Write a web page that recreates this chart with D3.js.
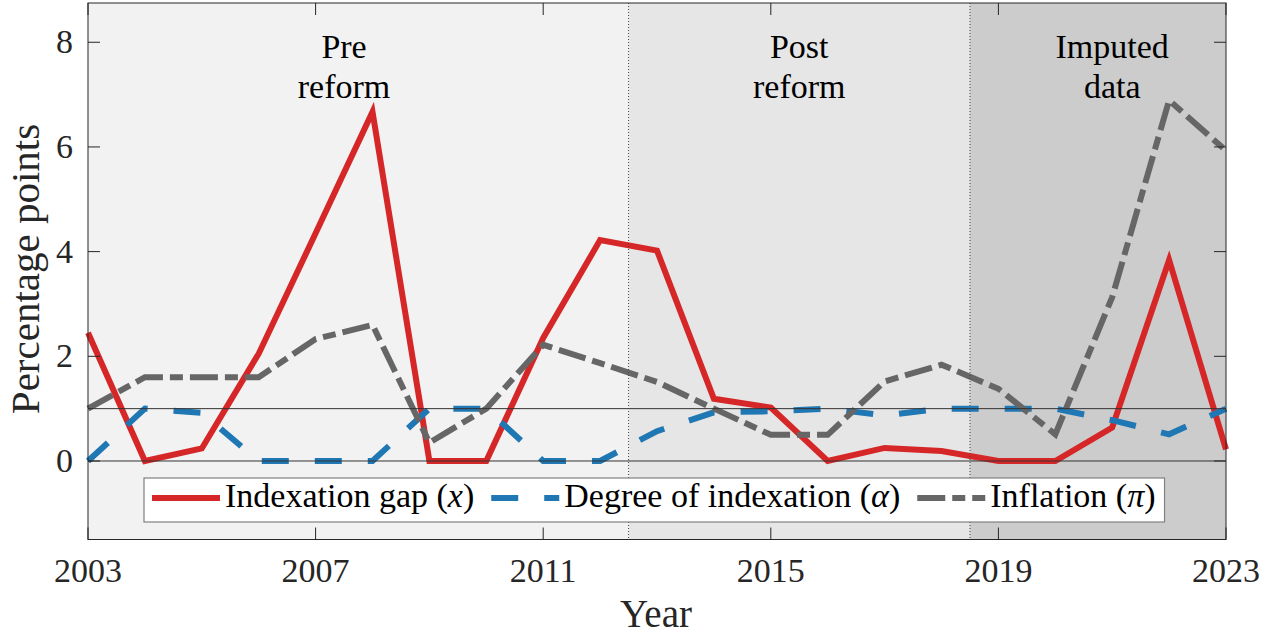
<!DOCTYPE html>
<html>
<head>
<meta charset="utf-8">
<script src="https://cdn.jsdelivr.net/npm/d3@7"></script>
<style>
  body { margin: 0; background: #fff; }
  text { font-family: "Liberation Serif", "Times New Roman", serif; }
</style>
</head>
<body>
<div id="chart"></div>
<script>
var years = [2003,2004,2005,2006,2007,2008,2009,2010,2011,2012,2013,2014,2015,2016,2017,2018,2019,2020,2021,2022,2023];
var gap   = [2.45,0,0.24,2.05,4.35,6.67,0,0,2.35,4.22,4.02,1.19,1.02,0,0.25,0.19,0,0,0.64,3.84,0.22];
var alpha = [0,1.0,0.92,0,0,0,1.0,1.0,0,0,0.57,0.93,0.95,1.0,0.87,1.0,1.0,1.0,0.78,0.51,1.0];
var infl  = [1.0,1.6,1.6,1.6,2.33,2.6,0.35,1.0,2.22,1.87,1.51,1.0,0.5,0.5,1.52,1.84,1.38,0.51,3.13,6.89,5.93];

var xTicks = [2003,2007,2011,2015,2019,2023];
var yTicks = [0,2,4,6,8];
var refLines = [0,1];

var periodStart = [2003,2012.5,2018.5];
var periodEnd   = [2012.5,2018.5,2023];
var periodMid   = [2007.5,2015.5,2021];
var periodLabel = [["Pre","reform"],["Post","reform"],["Imputed","data"]];
var periodFill  = ["#f2f2f2","#e6e6e6","#cccccc"];

var seriesNames = ["Indexation gap (", "Degree of indexation (", "Inflation ("];
var seriesSym   = ["x","\u03b1","\u03c0"];

var W = 1275, H = 635;
var svg = d3.select("#chart").append("svg").attr("width", W).attr("height", H);

var x = d3.scaleLinear().domain([2003,2023]).range([88,1226]);
var y = d3.scaleLinear().domain([-1.5,8.75]).range([539.5,3]);
var yTop = y.range()[1], yBot = y.range()[0];

// shaded periods
svg.selectAll(".period").data(periodStart).enter().append("rect")
    .attr("x", function(d,i){ return x(d); })
    .attr("width", function(d,i){ return x(periodEnd[i]) - x(d); })
    .attr("y", yTop).attr("height", yBot - yTop)
    .attr("fill", function(d,i){ return periodFill[i]; });

// period labels
periodMid.forEach(function(m,i){
    var t = svg.append("text").attr("x", x(m)).attr("text-anchor","middle")
        .attr("font-size", 34).attr("fill","#000");
    t.append("tspan").attr("x", x(m)).attr("y", 58).text(periodLabel[i][0]);
    t.append("tspan").attr("x", x(m)).attr("y", 98).text(periodLabel[i][1]);
});

var line = d3.line().x(function(d,i){ return x(years[i]); }).y(function(d){ return y(d); });

var styles = [
    {color:"#d62728", dash:null},
    {color:"#1f77b4", dash:"27,26"},
    {color:"#666666", dash:"28,7,13,7"}
];
[gap, alpha, infl].forEach(function(s,i){
    svg.append("path").datum(s)
        .attr("d", line)
        .attr("fill","none")
        .attr("stroke", styles[i].color)
        .attr("stroke-width", 6)
        .attr("stroke-linejoin","miter")
        .attr("stroke-dasharray", styles[i].dash);
});

// reference lines
svg.selectAll(".ref").data(refLines).enter().append("line")
    .attr("x1", x(2003)).attr("x2", x(2023))
    .attr("y1", function(d){ return y(d); }).attr("y2", function(d){ return y(d); })
    .attr("stroke","#333").attr("stroke-width",1);

svg.selectAll(".div").data([2012.5,2018.5]).enter().append("line")
    .attr("x1", function(d){ return x(d); }).attr("x2", function(d){ return x(d); })
    .attr("y1", yTop).attr("y2", yBot)
    .attr("stroke","#444").attr("stroke-width",1).attr("stroke-dasharray","1,2");

// axes (ticks inside, all four sides)
var tl = 12;
var ax = svg.append("g").attr("stroke","#262626").attr("stroke-width",1);
xTicks.forEach(function(t){
    ax.append("line").attr("x1",x(t)).attr("x2",x(t)).attr("y1",yBot).attr("y2",yBot-tl);
    ax.append("line").attr("x1",x(t)).attr("x2",x(t)).attr("y1",yTop).attr("y2",yTop+tl);
});
yTicks.forEach(function(t){
    ax.append("line").attr("x1",x(2003)).attr("x2",x(2003)+tl).attr("y1",y(t)).attr("y2",y(t));
    ax.append("line").attr("x1",x(2023)).attr("x2",x(2023)-tl).attr("y1",y(t)).attr("y2",y(t));
});
ax.append("rect").attr("x",x(2003)).attr("y",yTop).attr("width",x(2023)-x(2003)).attr("height",yBot-yTop)
    .attr("fill","none");

svg.selectAll(".xl").data(xTicks).enter().append("text")
    .attr("x", function(d){ return x(d); }).attr("y", 582)
    .attr("text-anchor","middle").attr("font-size",34).attr("fill","#262626")
    .text(function(d){ return d; });
svg.selectAll(".yl").data(yTicks).enter().append("text")
    .attr("x", 73).attr("y", function(d){ return y(d) + 11; })
    .attr("text-anchor","end").attr("font-size",34).attr("fill","#262626")
    .text(function(d){ return d; });

svg.append("text").attr("x",656).attr("y",627).attr("text-anchor","middle")
    .attr("font-size",39).attr("fill","#262626").text("Year");
svg.append("text").attr("transform","translate(39,269) rotate(-90)").attr("text-anchor","middle")
    .attr("font-size",41).attr("fill","#262626").text("Percentage points");

// legend
var lg = svg.append("g");
var box = lg.append("rect").attr("y",478).attr("height",44).attr("fill","#fff")
    .attr("stroke","#808080").attr("stroke-width",1.2);
var cx = 152;
seriesNames.forEach(function(n,i){
    lg.append("line").attr("x1",cx).attr("x2",cx+68).attr("y1",498).attr("y2",498)
        .attr("stroke",styles[i].color).attr("stroke-width",6).attr("stroke-dasharray",styles[i].dash);
    var t = lg.append("text").attr("x",cx+73).attr("y",507).attr("font-size",34).attr("fill","#000");
    t.append("tspan").text(n);
    t.append("tspan").attr("font-style","italic").text(seriesSym[i]);
    t.append("tspan").text(")");
    cx = cx + 73 + t.node().getComputedTextLength() + 17;
});
box.attr("x",144).attr("width", cx - 17 + 9 - 144);
</script>
</body>
</html>
